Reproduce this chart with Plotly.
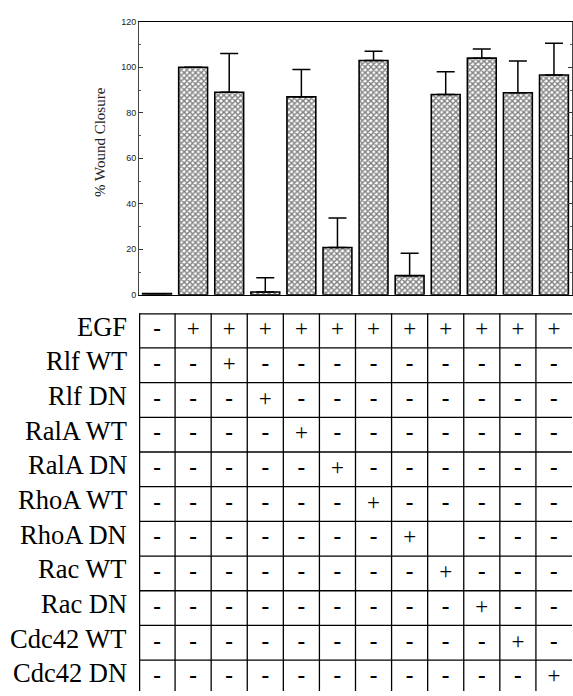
import plotly.graph_objects as go

# ---------------- data ----------------
bar_index = list(range(12))
closure = [0.5, 100, 89, 1.2, 87, 20.8, 103, 8.4, 88, 104, 88.8, 96.6]
closure_err = [None, None, 17, 6.3, 12, 13, 4, 9.9, 10, 4, 14, 13.9]

y_ticks = [0, 20, 40, 60, 80, 100, 120]

row_labels = ["EGF", "Rlf WT", "Rlf DN", "RalA WT", "RalA DN", "RhoA WT",
              "RhoA DN", "Rac WT", "Rac DN", "Cdc42 WT", "Cdc42 DN"]

table_rows = [
    ["-", "+", "+", "+", "+", "+", "+", "+", "+", "+", "+", "+"],
    ["-", "-", "+", "-", "-", "-", "-", "-", "-", "-", "-", "-"],
    ["-", "-", "-", "+", "-", "-", "-", "-", "-", "-", "-", "-"],
    ["-", "-", "-", "-", "+", "-", "-", "-", "-", "-", "-", "-"],
    ["-", "-", "-", "-", "-", "+", "-", "-", "-", "-", "-", "-"],
    ["-", "-", "-", "-", "-", "-", "+", "-", "-", "-", "-", "-"],
    ["-", "-", "-", "-", "-", "-", "-", "+", "", "-", "-", "-"],
    ["-", "-", "-", "-", "-", "-", "-", "-", "+", "-", "-", "-"],
    ["-", "-", "-", "-", "-", "-", "-", "-", "-", "+", "-", "-"],
    ["-", "-", "-", "-", "-", "-", "-", "-", "-", "-", "+", "-"],
    ["-", "-", "-", "-", "-", "-", "-", "-", "-", "-", "-", "+"],
]

# ---------------- figure ----------------
W, H = 573, 696
fig = go.Figure()

fig.add_trace(go.Bar(
    x=bar_index, y=closure, width=0.8,
    marker=dict(color="white",
                line=dict(color="black", width=1.6),
                pattern=dict(shape="x", fgcolor="black", bgcolor="white",
                             size=4, solidity=0.6)),
    error_y=dict(type="data", array=closure_err, symmetric=False,
                 arrayminus=[0] * 12, color="black", thickness=1.5, width=9),
    xaxis="x", yaxis="y", showlegend=False,
))

# table text
tx, ty, tt, tw = [], [], [], []
for r, row in enumerate(table_rows):
    for c, s in enumerate(row):
        tx.append(bar_index[c])
        ty.append(r + 0.5)
        tt.append(s)
        tw.append("bold" if s == "-" else "normal")
fig.add_trace(go.Scatter(
    x=tx, y=ty, text=tt, mode="text", textposition="middle center",
    textfont=dict(family="Liberation Serif", size=23, color="black",
                  weight=tw),
    xaxis="x2", yaxis="y2", showlegend=False, hoverinfo="skip",
))

shapes = []
n_rows = len(row_labels)
n_cols = len(bar_index)
# horizontal lines
for r in range(n_rows + 1):
    shapes.append(dict(type="line", xref="x2", yref="y2",
                       x0=-0.5, x1=n_cols - 0.5, y0=r, y1=r,
                       line=dict(color="black", width=2.5 if r == 0 else 1.3)))
# vertical lines
for c in range(n_cols):
    shapes.append(dict(type="line", xref="x2", yref="y2",
                       x0=c - 0.5, x1=c - 0.5, y0=0, y1=n_rows,
                       line=dict(color="black", width=2.5 if c == 0 else 1.3)))

annotations = []
for r, lab in enumerate(row_labels):
    annotations.append(dict(text=lab, xref="paper", yref="y2",
                            x=129 / W, y=r + 0.5, xanchor="right",
                            yanchor="middle", yshift=4, showarrow=False,
                            font=dict(family="Liberation Serif", size=26.5,
                                      color="black")))
annotations.append(dict(text="% Wound Closure", xref="paper", yref="paper",
                        x=100 / W, y=1 - 139 / H, textangle=-90,
                        xanchor="center", yanchor="middle", showarrow=False,
                        font=dict(family="Liberation Serif", size=15,
                                  color="#222")))

plot_l, plot_r = 139 / W, 572 / W
fig.update_layout(
    width=W, height=H, autosize=False,
    margin=dict(l=0, r=0, t=0, b=0),
    paper_bgcolor="white", plot_bgcolor="white",
    bargap=0.2,
    xaxis=dict(domain=[plot_l, plot_r], range=[-0.5, 11.5],
               showticklabels=False, ticks="", showgrid=False,
               zeroline=False, showline=True, mirror=True,
               linecolor="black", linewidth=1.3),
    yaxis=dict(domain=[1 - 294 / H, 1 - 17 / H], range=[0, 120],
               tickvals=y_ticks, ticks="inside", ticklen=4,
               tickcolor="#333", mirror="ticks",
               showline=True, linecolor="#444", linewidth=1,
               showgrid=False, zeroline=False,
               minor=dict(dtick=10, ticks="inside", ticklen=2,
                          tickcolor="#555"),
               tickfont=dict(family="Liberation Sans", size=9, color="#222")),
    xaxis2=dict(domain=[plot_l, plot_r], range=[-0.5, 11.5],
                anchor="y2", visible=False),
    yaxis2=dict(domain=[0, 1 - 312.7 / H],
                range=[(H - 312.7) / 35.2, 0],
                anchor="x2", visible=False),
    shapes=shapes,
    annotations=annotations,
)

fig.write_html("out.html", config={"displayModeBar": False},
               post_script="document.body.style.margin='0';")
